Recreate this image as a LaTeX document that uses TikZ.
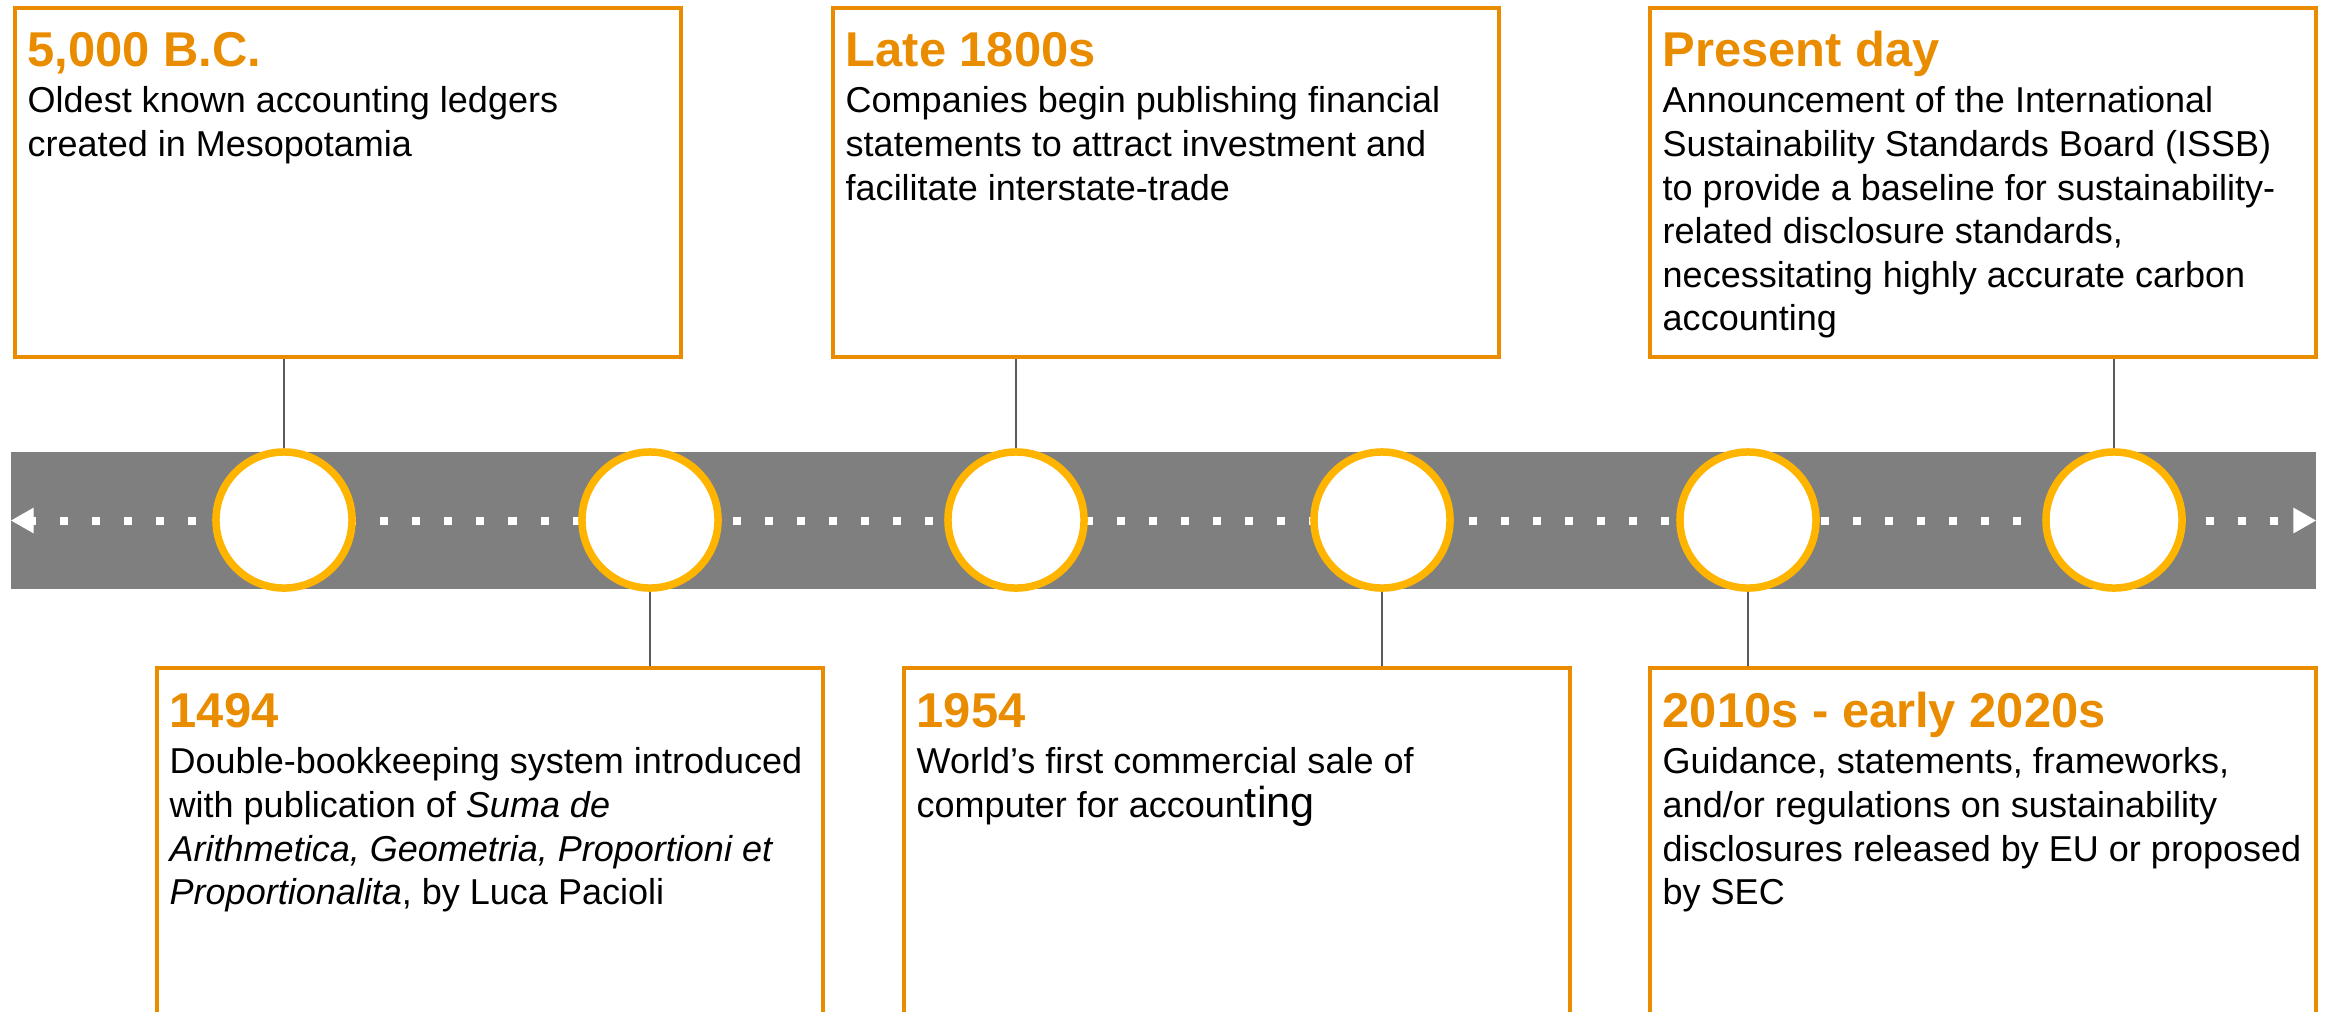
\documentclass[tikz,border=0pt]{standalone}
\usepackage{fontspec}
\setmainfont{Liberation Sans}
\usepackage{tikz}
\usetikzlibrary{arrows.meta, positioning}
\usepackage{xcolor}
\definecolor{ledgerorange}{RGB}{234, 140, 0}
\definecolor{ringyellow}{RGB}{255, 180, 0}
\definecolor{bandgray}{RGB}{127, 127, 127}
\definecolor{linkgray}{RGB}{90, 90, 90}

\tikzset{
  band/.style={fill=bandgray, minimum width=23.03cm, minimum height=1.37cm, inner sep=0pt},
  timeline/.style={draw=white, line width=0.08cm, dash pattern=on 0.08cm off 0.24cm,
    dash phase=0.04cm, {Triangle[length=0.23cm, width=0.24cm]}-{Triangle[length=0.23cm, width=0.24cm]}},
  milestone/.style={circle, draw=ringyellow, fill=white, line width=0.075cm,
    minimum size=1.36cm, inner sep=0pt},
  eventbox/.style={draw=ledgerorange, line width=0.035cm, minimum width=6.66cm,
    inner sep=0pt, anchor=north west},
  eventyear/.style={anchor=base west, inner sep=0pt, text=ledgerorange,
    font=\fontsize{13.9}{16}\selectfont\bfseries},
  eventdesc/.style={anchor=north west, inner sep=0pt, align=left,
    font=\fontsize{10.24}{12.4}\selectfont},
  link/.style={draw=linkgray, line width=0.02cm}
}

\begin{document}
\begin{tikzpicture}[x=0.01cm, y=-0.01cm]
  \useasboundingbox (0,0) rectangle (2330,1011);
  \clip (0,0) rectangle (2330,1011);

  % grey band with the dotted double arrow
  \node[band] (band) at (1163.5,520.5) {};
  \draw[timeline] (band.west) -- (band.east);

  % milestone rings
  \foreach \k in {1,...,6}{
    \node[milestone] (c\k) at ({284+366*(\k-1)},520) {};
  }

  % events above the band (box / ring / x / year / text)
  \foreach \i/\k/\x/\year/\desc in {
      1/1/13/{5,000 B.C.}/{Oldest known accounting ledgers\\created in Mesopotamia},
      3/3/831/{Late 1800s}/{Companies begin publishing financial\\statements to attract investment and\\facilitate interstate-trade},
      5/6/1648/{Present day}/{Announcement of the International\\Sustainability Standards Board (ISSB)\\to provide a baseline for sustainability-\\related disclosure standards,\\necessitating highly accurate carbon\\accounting}}{
    \node[eventbox, minimum height=3.49cm] (box\i) at (\x,6) {};
    \node[eventyear] (year\i) at (\x+14,66) {\year};
    \node[eventdesc] (desc\i) at (\x+14,86) {\desc};
    \draw[link] (c\k.north) -- (c\k.north |- box\i.south);
  }

  % events below the band
  \foreach \i/\k/\x/\year/\desc in {
      2/2/155/{1494}/{Double-bookkeeping system introduced\\with publication of \textit{Suma de}\\\textit{Arithmetica, Geometria, Proportioni et}\\\textit{Proportionalita}, by Luca Pacioli},
      4/4/902/{1954}/{World’s first commercial sale of\\computer for accoun{\fontsize{12.3}{12.4}\selectfont ting}},
      6/5/1648/{2010s - early 2020s}/{Guidance, statements, frameworks,\\and/or regulations on sustainability\\disclosures released by EU or proposed\\by SEC}}{
    \node[eventbox, minimum height=4cm] (box\i) at (\x,666) {};
    \node[eventyear] (year\i) at (\x+14,727) {\year};
    \node[eventdesc] (desc\i) at (\x+14,747) {\desc};
    \draw[link] (c\k.south) -- (c\k.south |- box\i.north);
  }
\end{tikzpicture}
\end{document}
